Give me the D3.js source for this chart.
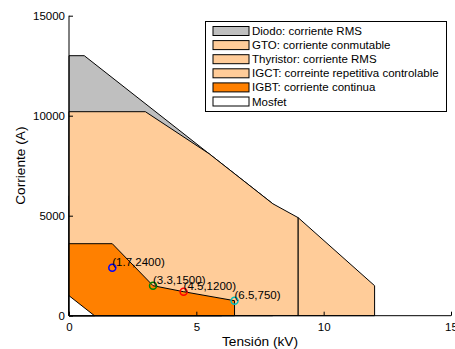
<!DOCTYPE html>
<html>
<head>
<meta charset="utf-8">
<script src="https://cdn.jsdelivr.net/npm/d3@7"></script>
<style>
  body { margin: 0; background: #fff; }
  svg { display: block; font-family: "Liberation Sans", Arial, sans-serif; }
</style>
</head>
<body>
<div id="chart"></div>
<script>
// región de cada dispositivo: [tensión kV, corriente A]
const diodo = [[0, 0], [0, 13000], [0.6, 13000], [8, 5600], [8, 0]];
const gto = [[0, 0], [0, 6000], [6, 6000], [6, 0]];
const thyristor = [[0, 0], [0, 10200], [3, 10200], [5.5, 8100], [8, 5600], [9, 4900], [9, 0]];
const igct = [[9, 0], [9, 4900], [12, 1500], [12, 0]];
const igbt = [[0, 0], [0, 3600], [1.7, 3600], [3.3, 1500], [4.5, 1200], [6.5, 750], [6.5, 0]];
const mosfet = [[0, 0], [0, 1000], [1, 0]];

const seriesNames = [
  "Diodo: corriente RMS",
  "GTO: corriente conmutable",
  "Thyristor: corriente RMS",
  "IGCT: correinte repetitiva controlable",
  "IGBT: corriente continua",
  "Mosfet"
];
const seriesColors = ["#bfbfbf", "#ffcc99", "#ffcc99", "#ffcc99", "#ff8000", "#ffffff"];

// puntos marcados
const pointX = [1.7, 3.3, 4.5, 6.5];
const pointY = [2400, 1500, 1200, 750];
const pointColors = ["#0000ff", "#008000", "#ff0000", "#00bfbf"];

const xTicks = [0, 5, 10, 15];
const yTicks = [0, 5000, 10000, 15000];

const width = 455, height = 349;
const margin = {left: 69, right: 4, top: 15.7, bottom: 33.3};

const svg = d3.select("#chart").append("svg")
    .attr("width", width)
    .attr("height", height);

const x = d3.scaleLinear().domain([0, 15]).range([margin.left, width - margin.right]);
const y = d3.scaleLinear().domain([0, 15000]).range([height - margin.bottom, margin.top]);

const line = d3.line().x(d => x(d[0])).y(d => y(d[1]));

const regions = [diodo, gto, thyristor, igct, igbt, mosfet];
svg.append("g").selectAll("path")
    .data(regions)
    .join("path")
    .attr("d", d => line(d) + "Z")
    .attr("fill", (d, i) => seriesColors[i])
    .attr("stroke", "#000")
    .attr("stroke-width", 1)
    .attr("stroke-linejoin", "miter");

// ejes
const xAxis = d3.axisBottom(x).tickValues(xTicks).tickSize(-4).tickPadding(7).tickFormat(d3.format("d"));
const yAxis = d3.axisLeft(y).tickValues(yTicks).tickSize(-4).tickPadding(4).tickFormat(d3.format("d"));

const gx = svg.append("g")
    .attr("transform", `translate(0,${y(0)})`)
    .call(xAxis);
const gy = svg.append("g")
    .attr("transform", `translate(${x(0)},0)`)
    .call(yAxis);

[gx, gy].forEach(g => {
  g.select(".domain").attr("stroke", "#000");
  g.selectAll(".tick line").attr("stroke", "#000");
  g.selectAll(".tick text")
      .attr("fill", "#000")
      .style("font-family", "Liberation Sans, Arial, sans-serif")
      .style("font-size", "11.5px");
});
gx.select(".domain").attr("d", `M${x(0)},0H${x(15)}`);
gy.select(".domain").attr("d", `M0,${y(0)}V${y(15000)}`);

// puntos y etiquetas
const pts = pointX.map((v, i) => ({x: v, y: pointY[i], c: pointColors[i]}));
svg.append("g").selectAll("circle")
    .data(pts)
    .join("circle")
    .attr("cx", d => x(d.x))
    .attr("cy", d => y(d.y))
    .attr("r", 3.5)
    .attr("fill", "none")
    .attr("stroke", d => d.c)
    .attr("stroke-width", 1.5);

svg.append("g").selectAll("text")
    .data(pts)
    .join("text")
    .attr("x", d => x(d.x))
    .attr("y", d => y(d.y + 300))
    .attr("dy", "0.35em")
    .attr("font-size", "11.5px")
    .attr("fill", "#000")
    .text(d => `(${d.x},${d.y})`);

// títulos
svg.append("text")
    .attr("x", (x(0) + x(15)) / 2)
    .attr("y", 346)
    .attr("text-anchor", "middle")
    .attr("font-size", "13.7px")
    .text("Tensión (kV)");

svg.append("text")
    .attr("transform", `translate(25,${(y(0) + y(15000)) / 2}) rotate(-90)`)
    .attr("text-anchor", "middle")
    .attr("font-size", "13.7px")
    .text("Corriente (A)");

// leyenda
const legend = svg.append("g").attr("transform", "translate(205,21)");
legend.append("rect")
    .attr("x", 0.5).attr("y", 0.5)
    .attr("width", 241).attr("height", 90)
    .attr("fill", "#fff")
    .attr("stroke", "#000");

const rowH = 14.1;
const rows = legend.selectAll("g.row")
    .data(seriesNames)
    .join("g")
    .attr("class", "row")
    .attr("transform", (d, i) => `translate(0,${10 + i * rowH})`);
rows.append("rect")
    .attr("x", 8).attr("y", -4.5)
    .attr("width", 36).attr("height", 9)
    .attr("fill", (d, i) => seriesColors[i])
    .attr("stroke", "#000")
    .attr("stroke-width", 1);
rows.append("text")
    .attr("x", 47)
    .attr("dy", "0.35em")
    .attr("font-size", "11.5px")
    .text(d => d);
</script>
</body>
</html>
